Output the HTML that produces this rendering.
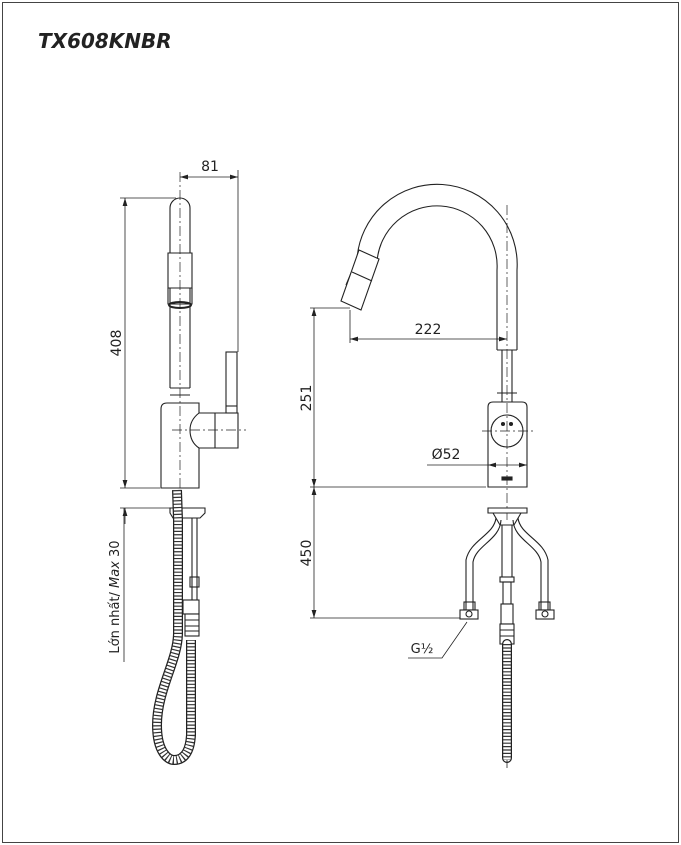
<!DOCTYPE html>
<html><head><meta charset="utf-8"><style>
html,body{margin:0;padding:0;background:#fff}
svg{display:block}
text{font-family:"DejaVu Sans","Liberation Sans",sans-serif;fill:#222}
</style></head><body>
<svg width="681" height="845" viewBox="0 0 681 845" xmlns="http://www.w3.org/2000/svg">
<defs>
<marker id="a" viewBox="0 0 10 6" refX="10" refY="3" markerWidth="8" markerHeight="5" orient="auto-start-reverse" markerUnits="userSpaceOnUse"><path d="M0,0L10,3L0,6z" fill="#222"/></marker>
</defs>
<rect x="2.5" y="2.5" width="676" height="840" fill="none" stroke="#444" stroke-width="1"/>
<text x="38" y="48" font-family="Liberation Sans" font-weight="bold" font-style="italic" font-size="20" fill="#111">TX608KNBR</text>

<g fill="none" stroke="#222" stroke-width="1.1">
<path d="M170,388 L170,208 A10,10 0 0 1 190,208 L190,388"/>
<path d="M168,253 L192,253 L192,288 L168,288 Z" fill="#fff"/>
<path d="M168,288 L168,304 L192,304 L192,288"/>
<ellipse cx="180" cy="305" rx="11" ry="3" stroke-width="2"/>
<path d="M170,388 L190,388 M170,395 L190,395"/>
<path d="M161,488 L161,409 Q161,403 167,403 L199,403 L199,413 Q190,420 190,430 Q190,442 199,448 L199,488 Z" fill="#fff"/>
<path d="M199,413 L238,413 L238,448 L199,448"/>
<path d="M215,413 L215,448"/>
<rect x="226" y="352" width="11" height="61" fill="#fff"/>
<path d="M226,406 L237,406"/>
<path d="M180,172 L180,500" stroke-dasharray="10,3,2,3" stroke-width="0.7"/>
<path d="M172,430 L246,430" stroke-dasharray="10,3,2,3" stroke-width="0.7"/>
<path d="M180,177 L238,177" marker-start="url(#a)" marker-end="url(#a)" stroke-width="0.8"/>
<path d="M238,170 L238,352" stroke-width="0.8"/>
<path d="M120,198 L176,198 M120,488 L160,488 M120,508 L172,508" stroke-width="0.8"/>
<path d="M125,198 L125,488" marker-start="url(#a)" marker-end="url(#a)" stroke-width="0.8"/>
<path d="M125,524 L125,508" marker-end="url(#a)" stroke-width="0.8"/>
<path d="M124,508 L124,662" stroke-width="0.8"/>
<path d="M170,508 L205,508 L205,513 L200,518 L173,518 L170,513 Z" fill="#fff"/>
<path d="M192,518 L192,600 M197,518 L197,600"/>
<rect x="190" y="577" width="9" height="10"/>
<rect x="183" y="600" width="16" height="14" fill="#fff"/>
<rect x="185" y="614" width="14" height="22" fill="#fff"/>
<path d="M185,620 L199,620 M185,626 L199,626 M185,631 L199,631"/>
</g>
<g fill="none">
<path d="M177,490 L178,520 L178,633 C178,660 157,690 157,725 C157,752 168,760 174,760 C184,760 190,752 191,735 L191,640" stroke="#222" stroke-width="10"/>
<path d="M177,490 L178,520 L178,633 C178,660 157,690 157,725 C157,752 168,760 174,760 C184,760 190,752 191,735 L191,640" stroke="#fff" stroke-width="7.5"/>
<path d="M177,490 L178,520 L178,633 C178,660 157,690 157,725 C157,752 168,760 174,760 C184,760 190,752 191,735 L191,640" stroke="#333" stroke-width="8" stroke-dasharray="1.2,2.2"/>
</g>

<g fill="none" stroke="#222" stroke-width="1.1">
<path d="M497,350 L497,270 A60,60 0 0 0 377,262 L366,290 M517,350 L517,270 A80,80 0 0 0 357,259 L346,285"/>
<path d="M359,250 L379,259 L361,310 L341,301 Z" fill="#fff"/>
<path d="M352,272 L372,281"/>
<path d="M502,350 L502,402 M512,350 L512,402 M497,350 L517,350"/>
<path d="M497,393 L517,393"/>
<path d="M488,487 L488,407 Q488,402 493,402 L522,402 Q527,402 527,407 L527,487 Z" fill="#fff"/>
<circle cx="507" cy="431" r="16" fill="#fff"/>
<circle cx="503" cy="424" r="1.5" fill="#222"/><circle cx="511" cy="424" r="1.5" fill="#222"/>
<rect x="502" y="477" width="10" height="3" fill="#222"/>
<path d="M507,205 L507,520" stroke-dasharray="10,3,2,3" stroke-width="0.7"/>
<path d="M482,431 L533,431" stroke-dasharray="10,3,2,3" stroke-width="0.7"/>
<path d="M350,339 L507,339" marker-start="url(#a)" marker-end="url(#a)" stroke-width="0.8"/>
<path d="M350,310 L350,343" stroke-width="0.8"/>
<path d="M310,308 L350,308 M310,487 L486,487 M310,618 L462,618" stroke-width="0.8"/>
<path d="M314,308 L314,487" marker-start="url(#a)" marker-end="url(#a)" stroke-width="0.8"/>
<path d="M314,487 L314,618" marker-start="url(#a)" marker-end="url(#a)" stroke-width="0.8"/>
<path d="M427,465 L488,465" stroke-width="0.8"/>
<path d="M488,465 L527,465" marker-start="url(#a)" marker-end="url(#a)" stroke-width="0.8"/>
<path d="M467,622 L442,658 L408,658" stroke-width="0.8"/>
<path d="M488,508 L527,508 L527,513 L488,513 Z" fill="#fff"/>
<path d="M493,513 L500,525 L514,525 L521,513"/>
<path d="M502,525 L502,577 M512,525 L512,577"/>
<path d="M496,518 C494,535 470,540 466,560 L466,610 M501,520 C500,540 476,545 473,562 L473,610"/>
<path d="M518,518 C520,535 544,540 548,560 L548,610 M513,520 C514,540 538,545 541,562 L541,610"/>
<rect x="464" y="602" width="11" height="8"/><rect x="539" y="602" width="11" height="8"/>
<rect x="460" y="610" width="18" height="9" fill="#fff"/><rect x="536" y="610" width="18" height="9" fill="#fff"/>
<circle cx="469" cy="614" r="3"/><circle cx="545" cy="614" r="3"/>
<rect x="500" y="577" width="14" height="5"/>
<rect x="503" y="582" width="8" height="22"/>
<rect x="501" y="604" width="12" height="20" fill="#fff"/>
<rect x="500" y="624" width="14" height="20" fill="#fff"/>
<path d="M500,630 L514,630 M500,636 L514,636"/>
</g>
<g fill="none">
<path d="M507,644 L507,758" stroke="#222" stroke-width="10" stroke-linecap="round"/>
<path d="M507,644 L507,758" stroke="#fff" stroke-width="7.5" stroke-linecap="round"/>
<path d="M507,644 L507,760" stroke="#333" stroke-width="8" stroke-dasharray="1.2,2.2"/>
<path d="M507,760 L507,768" stroke="#222" stroke-width="0.8"/>
</g>

<text x="210" y="171" font-size="14" text-anchor="middle">81</text>
<text transform="translate(121,343) rotate(-90)" font-size="14" text-anchor="middle">408</text>
<text transform="translate(119,597) rotate(-90)" font-size="13" text-anchor="middle">Lớn nhất/ <tspan font-style="italic">Max</tspan> 30</text>
<text x="428" y="334" font-size="14" text-anchor="middle">222</text>
<text transform="translate(311,398) rotate(-90)" font-size="14" text-anchor="middle">251</text>
<text transform="translate(311,553) rotate(-90)" font-size="14" text-anchor="middle">450</text>
<text x="446" y="459" font-size="14" text-anchor="middle">Ø52</text>
<text x="422" y="653" font-size="13" text-anchor="middle">G½</text>
</svg>
</body></html>
